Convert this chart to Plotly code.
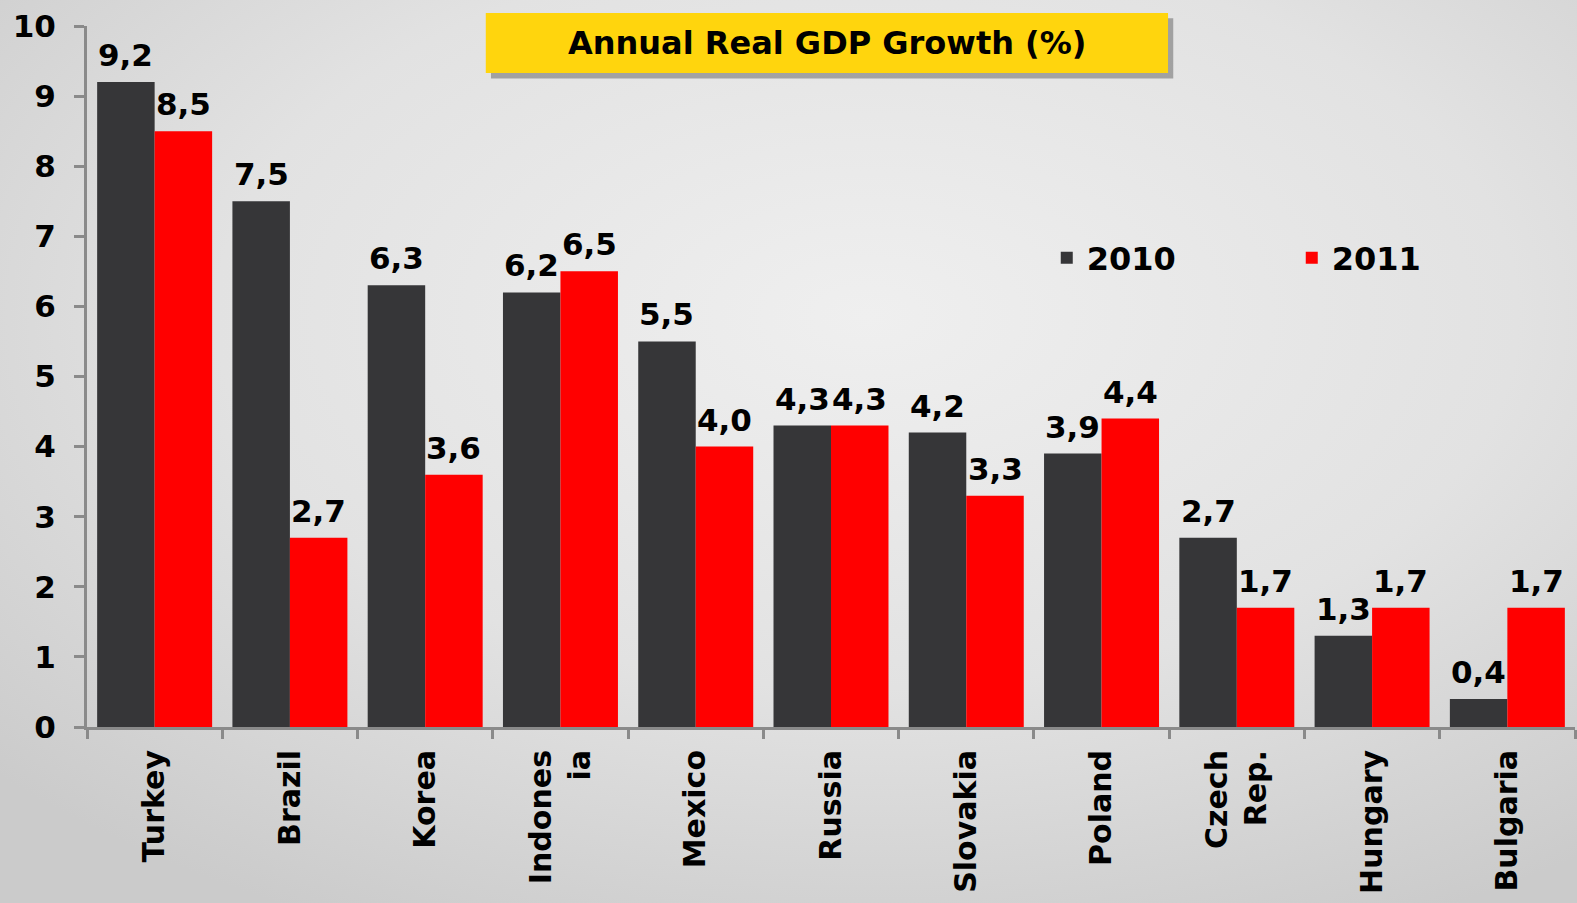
import base64
import plotly.graph_objects as go

categories = ["Turkey", "Brazil", "Korea", "Indones<br>ia", "Mexico", "Russia",
              "Slovakia", "Poland", "Czech<br>Rep.", "Hungary", "Bulgaria"]
gdp_2010 = [9.2, 7.5, 6.3, 6.2, 5.5, 4.3, 4.2, 3.9, 2.7, 1.3, 0.4]
gdp_2011 = [8.5, 2.7, 3.6, 6.5, 4.0, 4.3, 3.3, 4.4, 1.7, 1.7, 1.7]
y_ticks = list(range(0, 11))

FONT = "DejaVu Sans"
W, H = 1577, 903
ML, MR, MT, MB = 87, 2, 26, 176
PW, PH = W - ML - MR, H - MT - MB
BARGAP = 0.15

fig = go.Figure()
for name, vals, col in [("2010", gdp_2010, "#363638"), ("2011", gdp_2011, "#ff0000")]:
    fig.add_trace(go.Bar(x=categories, y=vals, name=name,
                         marker=dict(color=col, line=dict(width=0))))

# value labels above bars
bar_px = PW / len(categories) * (1 - BARGAP) / 2
for vals, sh in [(gdp_2010, -bar_px / 2), (gdp_2011, bar_px / 2)]:
    for c, v in zip(categories, vals):
        fig.add_annotation(x=c, y=v, xref="x", yref="y", text=f"{v:.1f}".replace(".", ","),
                           showarrow=False, xanchor="center", yanchor="bottom",
                           xshift=sh, yshift=7,
                           font=dict(family=FONT, size=31, color="black", weight="bold"))

# background radial gradient
svg = ('<svg xmlns="http://www.w3.org/2000/svg" width="1577" height="903">'
       '<defs><radialGradient id="g" cx="55%" cy="35%" r="75%">'
       '<stop offset="0" stop-color="#efefef"/><stop offset="0.55" stop-color="#e2e2e2"/>'
       '<stop offset="1" stop-color="#cbcbcb"/></radialGradient></defs>'
       '<rect width="1577" height="903" fill="url(#g)"/></svg>')
src = "data:image/svg+xml;base64," + base64.b64encode(svg.encode()).decode()
fig.add_layout_image(source=src, xref="paper", yref="paper",
                     x=-ML / PW, y=(PH + MT) / PH, sizex=W / PW, sizey=H / PH,
                     xanchor="left", yanchor="top", sizing="stretch", layer="below")

# title box with shadow
fig.add_shape(type="rect", xref="paper", yref="paper",
              x0=0.2715, x1=0.730, y0=0.925, y1=1.011,
              fillcolor="rgba(80,80,80,0.45)", line=dict(width=0), layer="above")
fig.add_shape(type="rect", xref="paper", yref="paper",
              x0=0.268, x1=0.7265, y0=0.933, y1=1.0186,
              fillcolor="#ffd50d", line=dict(width=0), layer="above")
fig.add_annotation(text="Annual Real GDP Growth (%)", xref="paper", yref="paper",
                   x=0.497, y=0.976, showarrow=False, xanchor="center", yanchor="middle",
                   font=dict(family=FONT, size=32, color="black", weight="bold"))

fig.update_layout(
    width=W, height=H, autosize=False,
    margin=dict(l=ML, r=MR, t=MT, b=MB),
    paper_bgcolor="#d4d4d4", plot_bgcolor="rgba(0,0,0,0)",
    barmode="group", bargap=BARGAP, bargroupgap=0,
    showlegend=True,
    legend=dict(orientation="h", x=0.645, y=0.669, xanchor="left", yanchor="middle",
                font=dict(family=FONT, size=32, color="black", weight="bold"),
                entrywidth=200, entrywidthmode="pixels", bgcolor="rgba(0,0,0,0)",
                itemwidth=30),
    font=dict(family=FONT, color="black"),
)
fig.update_yaxes(range=[0, 10], tickvals=y_ticks, showgrid=False, zeroline=False,
                 showline=True, linecolor="#8a8a8a", linewidth=3, automargin=False,
                 ticks="outside", ticklen=10, tickwidth=3, tickcolor="#8a8a8a",
                 ticklabelstandoff=12,
                 tickfont=dict(family=FONT, size=31, color="black", weight="bold"))
fig.update_xaxes(showgrid=False, showline=True, linecolor="#8a8a8a", linewidth=3,
                 automargin=False,
                 ticks="outside", ticklen=9, tickwidth=3, tickcolor="#8a8a8a",
                 tickson="boundaries", tickangle=-90, range=[-0.5, 10.5],
                 ticklabelstandoff=8,
                 tickfont=dict(family=FONT, size=30, color="black", weight="bold"))

fig.write_html("out.html",
               config={"displayModeBar": False, "responsive": False},
               post_script="document.body.style.margin='0';"
                           "document.body.style.overflow='hidden';"
                           "document.documentElement.style.overflow='hidden';")
